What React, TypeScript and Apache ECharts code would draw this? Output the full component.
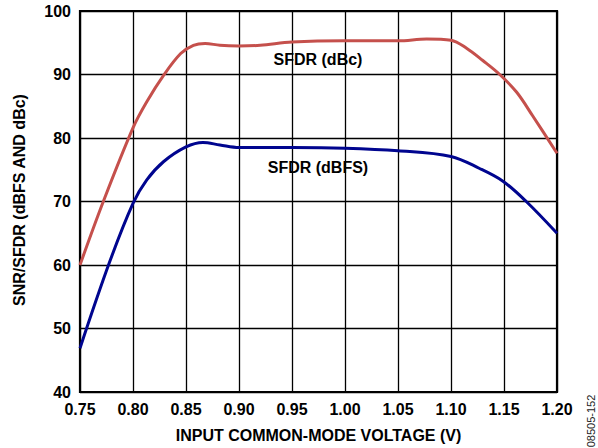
import React, { useEffect, useRef } from "react";
import * as echarts from "echarts";

// Input common-mode voltage (V) and SFDR values
const dbcVoltage = [0.75, 0.772, 0.8, 0.813, 0.829, 0.845, 0.857, 0.868, 0.882, 0.9, 0.92, 0.95, 1.0, 1.05, 1.077, 1.1, 1.115, 1.13, 1.146, 1.162, 1.177, 1.2];
const sfdrDbc = [60, 70, 81.6, 85.7, 89.9, 93.3, 94.6, 94.9, 94.6, 94.5, 94.6, 95.1, 95.3, 95.3, 95.6, 95.4, 94.1, 92.2, 90, 87.2, 83.5, 77.6];

const dbfsVoltage = [0.75, 0.778, 0.8, 0.813, 0.829, 0.85, 0.866, 0.882, 0.9, 0.95, 1.0, 1.05, 1.1, 1.127, 1.149, 1.171, 1.2];
const sfdrDbfs = [46.9, 60.5, 69.7, 73.4, 76.3, 78.6, 79.3, 78.9, 78.5, 78.5, 78.4, 78.0, 77.1, 75.2, 73.2, 70.0, 65.0];

const seriesNames = ["SFDR (dBc)", "SFDR (dBFS)"];
const labelPositions: [number, number][] = [
  [0.9745, 92.4],
  [0.9745, 75.4],
];

const xTitle = "INPUT COMMON-MODE VOLTAGE (V)";
const yTitle = "SNR/SFDR (dBFS AND dBc)";
const figureId = "08505-152";

const FONT = 'Arial, "Liberation Sans", sans-serif';

export default function App() {
  const ref = useRef<HTMLDivElement>(null);
  useEffect(() => {
    if (!ref.current) return;
    const chart = echarts.init(ref.current, null, { renderer: "svg" });
    const pairs = (xs: number[], ys: number[]) => xs.map((x, i) => [x, ys[i]]);
    const labelStyle = {
      show: true,
      position: "inside",
      color: "#000",
      fontWeight: "bold",
      fontSize: 16,
      fontFamily: FONT,
    };
    chart.setOption({
      animation: false,
      backgroundColor: "#fff",
      grid: {
        left: 80,
        right: 41,
        top: 11,
        bottom: 56,
        show: true,
        borderColor: "#000",
        borderWidth: 2.2,
        backgroundColor: "transparent",
      },
      xAxis: {
        type: "value",
        min: 0.75,
        max: 1.2,
        interval: 0.05,
        axisLine: { show: false },
        axisTick: { show: false },
        splitLine: { show: true, lineStyle: { color: "#000", width: 1.3 } },
        axisLabel: {
          formatter: (v: number) => v.toFixed(2),
          color: "#000",
          fontWeight: "bold",
          fontSize: 16,
          fontFamily: FONT,
          margin: 9,
        },
      },
      yAxis: {
        type: "value",
        min: 40,
        max: 100,
        interval: 10,
        axisLine: { show: false },
        axisTick: { show: false },
        splitLine: { show: true, lineStyle: { color: "#000", width: 1.3 } },
        axisLabel: {
          color: "#000",
          fontWeight: "bold",
          fontSize: 16,
          fontFamily: FONT,
          margin: 9,
        },
      },
      series: [
        {
          name: seriesNames[0],
          type: "line",
          smooth: 0.35,
          showSymbol: false,
          data: pairs(dbcVoltage, sfdrDbc),
          lineStyle: { color: "#c5504c", width: 3 },
          itemStyle: { color: "#c5504c" },
          z: 3,
          markPoint: {
            symbol: "circle",
            symbolSize: 1,
            itemStyle: { color: "rgba(0,0,0,0)" },
            label: { ...labelStyle, formatter: seriesNames[0] },
            data: [{ coord: labelPositions[0] }],
          },
        },
        {
          name: seriesNames[1],
          type: "line",
          smooth: 0.35,
          showSymbol: false,
          data: pairs(dbfsVoltage, sfdrDbfs),
          lineStyle: { color: "#00058f", width: 3 },
          itemStyle: { color: "#00058f" },
          z: 3,
          markPoint: {
            symbol: "circle",
            symbolSize: 1,
            itemStyle: { color: "rgba(0,0,0,0)" },
            label: { ...labelStyle, formatter: seriesNames[1] },
            data: [{ coord: labelPositions[1] }],
          },
        },
      ],
      graphic: [
        {
          type: "text",
          x: 318.5,
          y: 435,
          style: {
            text: xTitle,
            fill: "#000",
            font: `bold 16px ${FONT}`,
            align: "center",
            verticalAlign: "middle",
          },
        },
        {
          type: "text",
          x: 19.5,
          y: 200,
          rotation: Math.PI / 2,
          style: {
            text: yTitle,
            fill: "#000",
            font: `bold 16px ${FONT}`,
            align: "center",
            verticalAlign: "middle",
          },
        },
        {
          type: "text",
          x: 591,
          y: 421,
          rotation: Math.PI / 2,
          style: {
            text: figureId,
            fill: "#222",
            font: `11px ${FONT}`,
            align: "center",
            verticalAlign: "middle",
          },
        },
      ],
    });
    return () => chart.dispose();
  }, []);
  return (
    <div
      ref={ref}
      style={{ position: "fixed", left: 0, top: 0, width: 598, height: 448 }}
    />
  );
}
